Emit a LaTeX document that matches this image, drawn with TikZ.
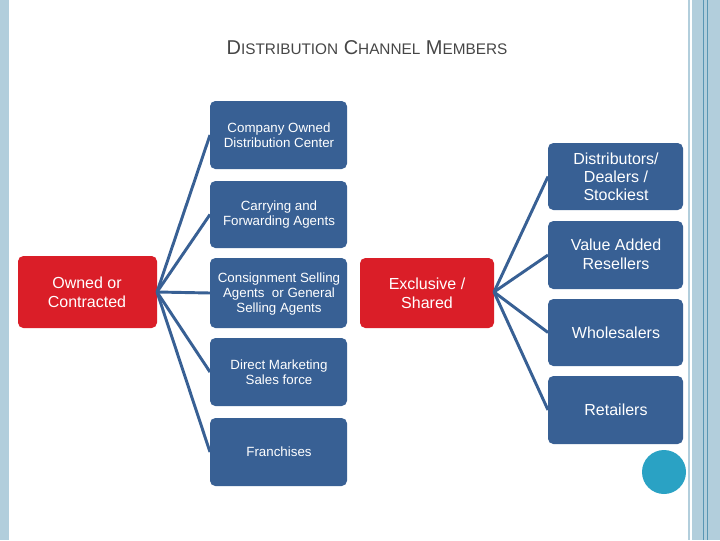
\documentclass[tikz,border=0pt]{standalone}
\usepackage{fontspec}
\setmainfont{Liberation Sans}
\definecolor{cblue}{RGB}{56,96,148}
\definecolor{cred}{RGB}{218,30,40}
\definecolor{cbar}{RGB}{178,206,220}
\definecolor{cline}{RGB}{90,150,180}
\definecolor{ctitle}{RGB}{70,70,70}
\definecolor{ccirc}{RGB}{42,162,196}
\begin{document}
\begin{tikzpicture}[x=0.75pt,y=-0.75pt,
  box/.style={draw=none,rounded corners=4pt,inner sep=0pt},
  blue/.style={box,fill=cblue},
  red/.style={box,fill=cred},
  wt/.style={text=white,align=center,font=\fontsize{10}{11}\selectfont},
  bt/.style={text=white,align=center,font=\fontsize{12}{14.5}\selectfont},
  con/.style={draw=cblue,line width=2.2pt}]
\useasboundingbox (0,0) rectangle (720,540);
\fill[white] (0,0) rectangle (720,540);
\fill[cbar] (0,0) rectangle (9,540);
\fill[cbar] (688,0) rectangle (720,540);
\fill[white] (690,0) rectangle (692,540);
\draw[cline,line width=0.6pt] (703,0) -- (703,540) (707,0) -- (707,540);
\node[text=ctitle,font=\fontsize{15}{18}\selectfont] (title) at (367,48)
 {D{\fontsize{11.5}{14}\selectfont ISTRIBUTION} C{\fontsize{11.5}{14}\selectfont HANNEL} M{\fontsize{11.5}{14}\selectfont EMBERS}};
% left
\path[red] (18,256) rectangle (157,328); \coordinate (L) at (157,292);
\node[bt] (lt) at (87,292) {Owned or\\Contracted};
% middle
\foreach \n/\a/\b in {m1/101/169,m2/181/248,m3/258/328,m4/338/406,m5/418/486}{
  \path[blue] (210,\a) rectangle (347,\b);
  \coordinate (\n) at (210,{(\a+\b)/2});
}
\node[wt] (t1) at (279,135.5) {Company Owned\\Distribution Center};
\node[wt] (t2) at (279,214.5) {Carrying and\\Forwarding Agents};
\node[wt] (t3) at (279,294) {Consignment Selling\\Agents\ \ or General\\Selling Agents};
\node[wt] (t4) at (279,372.5) {Direct Marketing\\Sales force};
\node[wt] (t5) at (279,452) {Franchises};
% exclusive
\path[red] (360,258) rectangle (494,328); \coordinate (E) at (494,292);
\node[bt] (et) at (427,293) {Exclusive /\\Shared};
% right
\foreach \n/\a/\b in {r1/143/210,r2/221/289,r3/299/366,r4/376/444}{
  \path[blue] (548,\a) rectangle (683,\b);
  \coordinate (\n) at (548,{(\a+\b)/2});
}
\node[bt,font=\fontsize{12}{13.5}\selectfont] (s1) at (616,177) {Distributors/\\Dealers /\\Stockiest};
\node[bt] (s2) at (616,254.5) {Value Added\\Resellers};
\node[bt] (s3) at (616,332.5) {Wholesalers};
\node[bt] (s4) at (616,410) {Retailers};
\foreach \n in {m1,m2,m3,m4,m5} \draw[con] (L) -- (\n);
\foreach \n in {r1,r2,r3,r4} \draw[con] (E) -- (\n);
\fill[ccirc] (664,472) circle (22);
\end{tikzpicture}
\end{document}
